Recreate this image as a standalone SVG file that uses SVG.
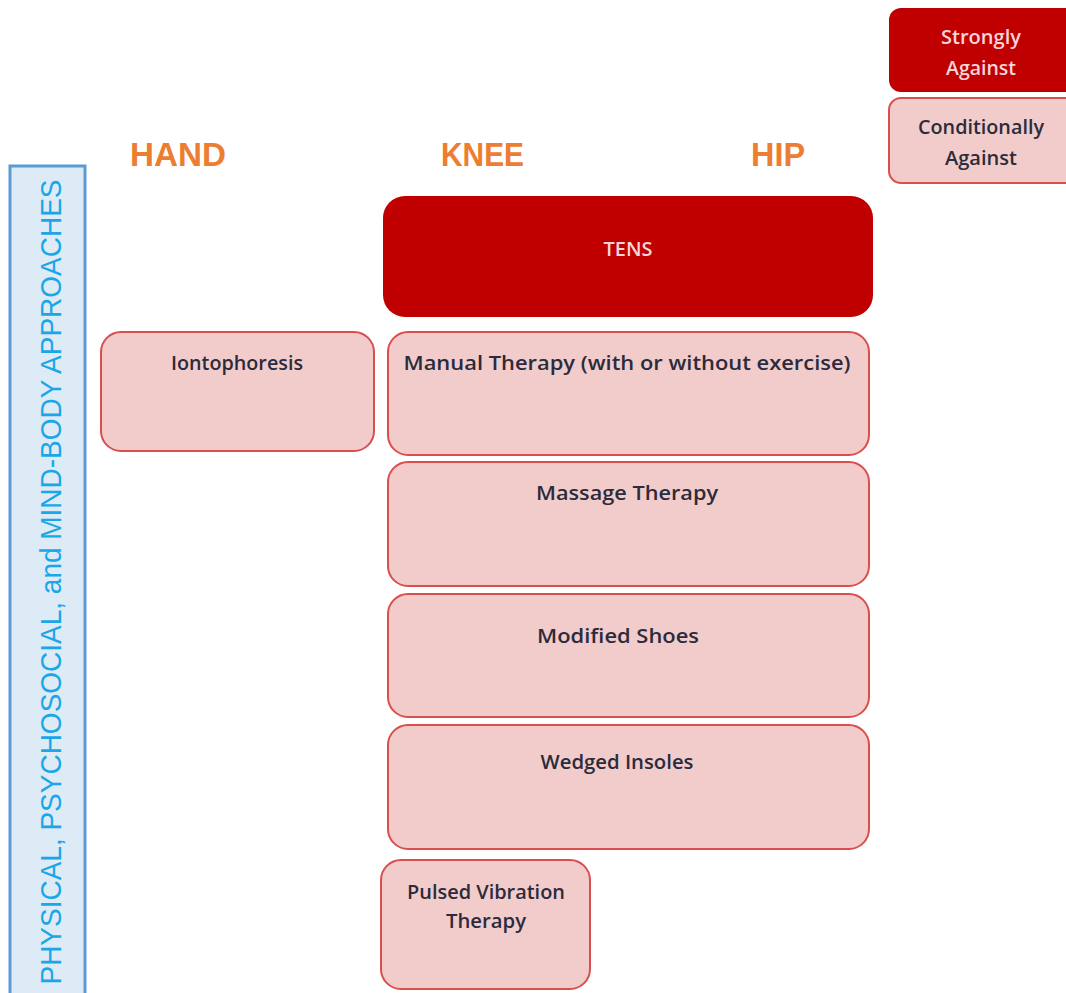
<svg xmlns="http://www.w3.org/2000/svg" width="1066" height="993" viewBox="0 0 1066 993">
<style>
.dark{fill:#C00000;}
.light{fill:#F2CBCB;stroke:#DB4E4E;stroke-width:2;}
.hd{font-family:"Liberation Sans",Arial,sans-serif;font-weight:bold;font-size:33px;fill:#ED7D31;}
.t{font-family:"Open Sans","Liberation Sans",sans-serif;font-weight:600;font-size:20px;fill:#2B2B3B;text-anchor:middle;}
.tw{font-family:"Open Sans","Liberation Sans",sans-serif;font-weight:600;font-size:20px;fill:#F5D5DA;text-anchor:middle;}
</style>
<rect width="1066" height="993" fill="#FFFFFF"/>
<g id="legend-strong"><rect class="dark" x="889" y="8" width="190" height="84" rx="12"/><text class="tw" x="981" y="44" textLength="80" lengthAdjust="spacingAndGlyphs">Strongly</text><text class="tw" x="981" y="75" textLength="70" lengthAdjust="spacingAndGlyphs">Against</text></g>
<g id="legend-cond"><rect class="light" x="889" y="98" width="190" height="85" rx="12"/><text class="t" x="981" y="134" textLength="126" lengthAdjust="spacingAndGlyphs">Conditionally</text><text class="t" x="981" y="165" textLength="72" lengthAdjust="spacingAndGlyphs">Against</text></g>
<g id="headings">
<text class="hd" x="130" y="166" textLength="96" lengthAdjust="spacingAndGlyphs">HAND</text>
<text class="hd" x="441" y="166" textLength="83" lengthAdjust="spacingAndGlyphs">KNEE</text>
<text class="hd" x="751" y="166" textLength="54" lengthAdjust="spacingAndGlyphs">HIP</text>
</g>
<g id="category"><rect x="10" y="166" width="75" height="840" fill="#DDEBF7" stroke="#5B9BD5" stroke-width="3"/>
<text transform="translate(61,582) rotate(-90)" text-anchor="middle" font-family="'Liberation Sans',Arial,sans-serif" font-size="29" fill="#1BA6E8" textLength="805" lengthAdjust="spacingAndGlyphs">PHYSICAL, PSYCHOSOCIAL, and MIND-BODY APPROACHES</text></g>
<g id="tens"><rect class="dark" x="383" y="196" width="490" height="121" rx="22"/><text class="tw" x="628" y="256" textLength="49" lengthAdjust="spacingAndGlyphs">TENS</text></g>
<g id="iontophoresis"><rect class="light" x="101" y="332" width="273" height="119" rx="20"/><text class="t" x="237" y="370" textLength="132" lengthAdjust="spacingAndGlyphs">Iontophoresis</text></g>
<g id="manual"><rect class="light" x="388" y="332" width="481" height="123" rx="20"/><text class="t" x="627" y="370" textLength="447" lengthAdjust="spacingAndGlyphs">Manual Therapy (with or without exercise)</text></g>
<g id="massage"><rect class="light" x="388" y="462" width="481" height="124" rx="20"/><text class="t" x="627" y="500" textLength="182" lengthAdjust="spacingAndGlyphs">Massage Therapy</text></g>
<g id="shoes"><rect class="light" x="388" y="594" width="481" height="123" rx="20"/><text class="t" x="618" y="643" textLength="162" lengthAdjust="spacingAndGlyphs">Modified Shoes</text></g>
<g id="insoles"><rect class="light" x="388" y="725" width="481" height="124" rx="20"/><text class="t" x="617" y="769" textLength="153" lengthAdjust="spacingAndGlyphs">Wedged Insoles</text></g>
<g id="pulsed"><rect class="light" x="381" y="860" width="209" height="129" rx="20"/><text class="t" x="486" y="899" textLength="158" lengthAdjust="spacingAndGlyphs">Pulsed Vibration</text><text class="t" x="486" y="928" textLength="80" lengthAdjust="spacingAndGlyphs">Therapy</text></g>
<g id="connectors"></g>
</svg>
